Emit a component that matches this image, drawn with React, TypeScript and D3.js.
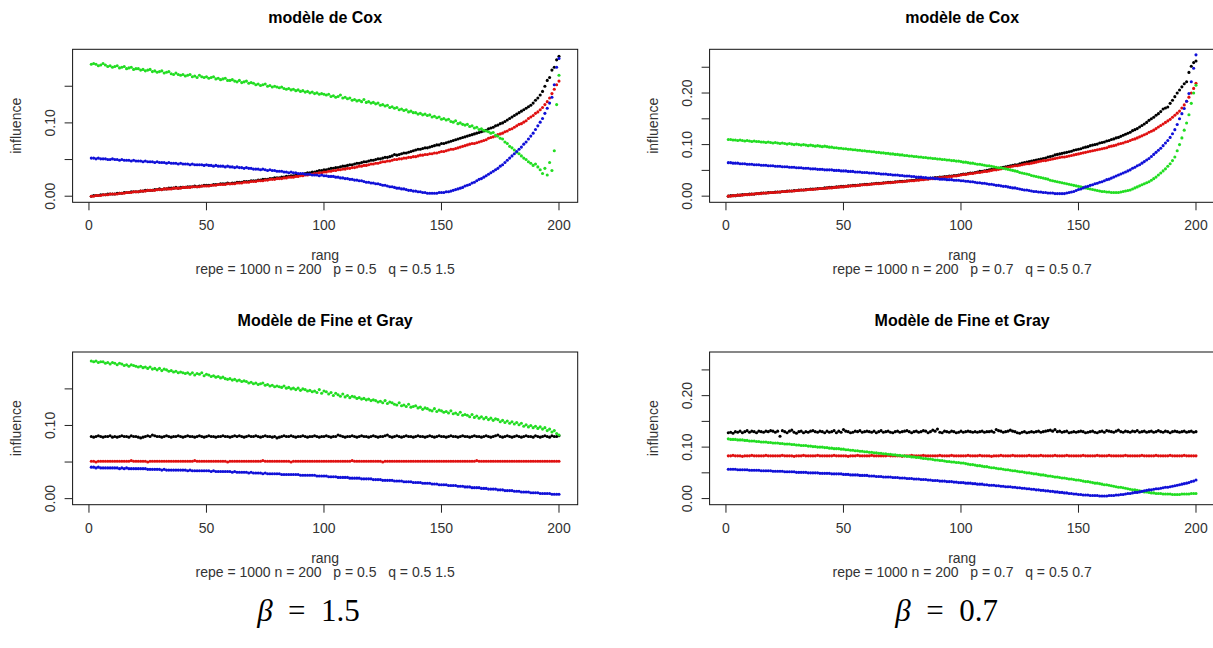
import React from 'react';
import * as d3 from 'd3';

// values are influence x 1000, ranks 1..200
const COX15_K = [
0,1,1,1,2,2,2,3,3,3,3,4,4,4,5,5,5,6,6,6,
6,7,7,8,8,8,8,9,9,10,9,10,10,11,11,11,12,11,12,12,
12,13,13,13,14,13,14,14,15,15,15,15,16,16,16,17,17,17,18,17,
18,18,19,19,19,20,20,20,21,21,21,22,22,23,23,23,24,24,25,25,
25,26,26,27,27,28,28,29,29,30,30,31,32,32,33,33,34,35,35,36,
36,37,38,38,39,39,40,41,41,42,43,43,44,45,45,46,47,47,48,49,
49,50,51,51,52,53,53,54,55,57,56,57,58,59,59,60,61,62,63,64,
64,65,66,66,67,68,69,70,70,72,72,73,74,75,76,77,78,79,80,81,
82,83,84,85,86,87,88,89,90,92,93,94,96,97,99,100,102,104,106,108,
110,112,114,116,118,120,122,124,127,131,134,138,143,150,158,162,172,176,186,191];
const COX15_R = [
0,0,1,1,1,2,2,2,3,3,3,3,4,4,4,5,5,5,6,6,
6,7,7,7,8,8,8,8,9,9,9,10,10,10,10,11,11,11,11,12,
12,12,12,13,13,13,13,14,14,14,14,15,15,15,16,16,16,16,17,17,
17,17,18,18,18,19,19,19,20,20,20,21,21,21,22,22,23,23,23,24,
24,24,25,25,26,26,26,27,27,28,28,29,29,30,30,31,31,32,32,33,
33,34,34,35,35,36,36,37,37,38,38,39,39,40,41,41,42,42,43,44,
44,45,45,46,47,47,48,48,49,50,50,51,51,52,52,53,53,54,54,55,
56,56,57,57,58,58,59,59,60,61,61,62,63,64,64,65,66,67,68,69,
70,71,72,72,73,74,75,76,77,79,80,81,82,84,85,86,88,89,91,92,
94,96,98,99,101,103,106,108,110,113,115,118,121,125,129,134,140,146,152,157];
const COX15_G = [
180,181,180,178,179,181,179,177,178,176,177,178,175,176,177,174,175,176,173,174,
174,172,173,171,172,173,170,171,169,170,171,168,169,170,167,166,168,166,165,166,
164,165,166,163,164,162,165,163,162,163,161,162,163,160,161,159,160,161,158,158,
159,157,156,158,155,156,157,154,155,154,152,153,151,152,153,150,151,149,150,149,
148,149,147,146,147,145,146,144,145,143,144,142,143,141,142,140,141,139,140,139,
138,139,136,137,135,136,138,134,135,133,134,131,132,130,131,129,132,128,129,127,
128,126,127,124,125,123,124,121,122,120,121,118,119,117,118,115,116,114,114,112,
113,111,112,110,111,108,109,107,108,105,106,104,105,102,101,103,99,100,98,97,
98,95,96,93,94,91,92,90,89,88,86,87,83,82,79,78,74,72,68,66,
63,60,58,55,52,50,47,45,42,44,40,36,31,38,29,46,35,62,125,165];
const COX15_B = [
52,52,51,52,51,51,51,50,50,51,50,50,49,50,49,49,49,48,49,48,
48,48,47,48,47,47,47,46,47,46,46,46,45,46,45,45,45,44,45,44,
44,44,43,44,43,43,43,43,42,43,42,42,41,42,41,41,41,40,41,40,
40,39,40,39,39,38,39,38,38,37,37,37,36,37,36,35,36,35,35,34,
34,34,33,33,32,33,32,32,31,31,31,30,30,30,29,29,29,28,29,28,
28,27,27,27,26,26,25,25,24,24,23,23,22,22,21,21,20,19,19,18,
18,17,17,16,15,15,14,13,13,12,11,11,10,10,9,8,8,7,7,6,
6,5,5,4,4,4,4,4,5,5,5,6,6,7,8,9,10,11,12,14,
15,16,18,19,21,23,24,26,28,30,32,34,36,38,41,43,46,49,52,55,
58,61,64,67,71,74,78,82,86,91,96,101,106,113,120,127,135,152,176,188];

const COX07_K = [
0,1,1,1,2,2,3,3,3,4,4,4,5,5,6,6,6,7,7,7,
8,8,8,9,9,10,10,10,11,11,12,12,12,13,13,14,14,14,15,15,
15,16,16,17,17,17,18,18,19,19,19,20,20,21,21,21,22,22,23,23,
23,24,24,25,25,25,26,26,27,27,27,28,28,29,29,29,30,30,31,31,
32,32,33,33,34,34,35,35,36,36,37,37,38,38,39,39,40,40,41,42,
43,43,44,45,45,46,47,48,48,49,50,51,52,52,53,54,55,56,57,58,
59,60,61,61,63,64,65,66,67,68,69,70,71,72,73,74,76,77,78,80,
81,82,83,84,85,86,87,89,90,91,92,94,95,96,98,99,100,101,103,104,
105,107,108,110,111,113,114,116,118,120,122,124,127,129,131,134,137,140,143,147,
150,153,157,160,164,169,171,173,180,186,193,200,206,212,218,222,240,252,259,262];
const COX07_R = [
0,0,1,1,2,2,2,3,3,3,4,4,5,5,5,6,6,6,7,7,
7,8,8,9,9,9,10,10,10,11,11,12,12,12,13,13,13,14,14,15,
15,15,16,16,16,17,17,18,18,18,19,19,20,20,20,21,21,22,22,22,
23,23,24,24,24,25,25,26,26,26,27,27,28,28,28,29,29,30,30,30,
31,31,32,32,33,33,34,34,35,35,36,36,37,37,38,38,39,39,40,41,
42,42,43,44,44,45,46,46,47,48,48,49,50,51,51,52,53,54,55,56,
57,58,59,59,60,61,62,63,63,64,65,66,67,68,69,69,70,71,72,73,
74,75,76,76,77,78,79,80,81,82,83,84,85,86,87,88,89,90,91,92,
93,94,96,97,98,99,101,102,103,105,106,108,110,111,113,115,117,119,121,124,
126,128,131,134,137,140,143,146,149,153,157,161,165,171,177,184,192,200,209,219];
const COX07_G = [
110,110,109,109,108,109,108,107,108,107,106,107,106,106,105,105,104,105,104,103,
104,103,102,103,102,101,102,101,100,101,100,99,100,99,98,99,98,97,98,97,
96,97,96,95,95,94,94,93,93,92,92,91,91,90,90,89,89,88,88,87,
87,86,86,85,85,84,84,83,83,82,82,81,81,80,80,79,79,78,78,77,
77,76,76,75,75,74,74,73,73,72,72,71,71,70,70,69,69,68,68,67,
66,66,65,64,64,63,62,62,61,60,59,59,58,57,56,55,55,54,53,52,
51,50,49,48,46,45,44,43,42,40,39,38,37,36,35,34,33,31,30,29,
28,27,26,25,24,23,22,21,20,19,18,17,16,15,14,13,12,11,10,9,
9,8,8,7,7,7,7,8,9,10,11,12,14,16,18,20,22,24,26,28,
31,34,37,41,45,49,53,58,63,69,76,88,100,113,128,142,158,180,200,215];
const COX07_B = [
65,65,64,64,64,63,63,63,62,62,62,61,61,61,60,60,60,59,59,59,
58,58,58,57,57,57,56,56,56,55,55,55,54,54,54,53,53,53,52,52,
52,51,51,51,51,50,50,50,49,49,49,48,48,48,47,47,47,46,46,46,
45,45,45,44,44,43,43,43,42,42,41,41,41,40,40,39,39,39,38,38,
37,37,37,36,36,35,35,35,34,34,33,33,33,32,32,32,31,31,31,30,
30,29,29,28,28,27,26,26,25,25,24,23,23,22,21,21,20,19,19,18,
17,16,16,15,14,13,12,12,11,10,9,9,8,8,7,7,6,6,6,5,
5,5,5,5,6,7,8,9,11,13,14,16,18,19,21,22,24,25,27,28,
30,32,33,35,37,39,41,43,45,47,49,51,54,56,59,61,64,67,70,73,
77,81,85,89,93,98,103,108,114,121,129,139,150,160,170,184,199,222,248,274];

const FG15_K = [
85,84,85,86,85,84,85,85,86,84,85,84,85,86,85,85,84,86,85,85,
84,83,84,85,86,85,87,86,85,85,84,85,86,85,84,85,85,86,85,84,
85,86,85,85,84,85,86,85,84,85,86,85,85,84,85,85,86,85,85,84,
85,86,85,86,85,84,85,86,85,85,86,85,84,85,86,85,85,84,85,83,
84,85,86,85,85,86,85,84,85,85,86,85,84,85,85,86,85,84,85,85,
86,85,84,85,85,87,86,85,84,85,85,86,85,84,85,86,85,85,84,85,
86,85,84,85,85,86,87,85,84,85,86,85,84,85,86,85,85,84,85,86,
85,85,84,85,86,85,84,85,86,85,85,84,85,86,85,85,84,85,86,85,
85,84,85,86,85,85,84,85,86,85,84,85,86,87,85,84,85,86,85,84,
85,86,85,84,85,86,85,85,84,86,85,84,85,86,85,84,86,85,85,86];
const FG15_R = [
51,51,50,51,51,51,51,51,51,51,51,51,51,51,51,51,51,52,51,51,
51,51,51,51,50,51,51,51,51,51,51,51,51,51,51,51,51,51,51,51,
51,51,51,51,52,51,51,51,51,51,51,51,51,51,51,51,51,51,50,51,
51,51,51,51,51,51,51,51,51,51,51,51,51,52,51,51,51,51,51,51,
51,51,51,51,51,50,51,51,51,51,51,51,51,51,51,51,51,51,51,51,
51,51,51,51,51,51,51,51,51,51,51,52,51,51,51,51,51,51,51,51,
51,51,51,51,50,51,51,51,51,51,51,51,51,51,51,51,51,51,51,51,
51,51,51,51,51,51,51,51,51,51,51,51,51,51,51,51,51,51,51,51,
51,51,51,51,52,51,51,51,51,51,51,51,51,51,51,51,51,51,51,51,
51,51,51,51,51,51,51,51,51,51,51,51,51,51,51,51,51,51,51,51];
const FG15_G = [
188,187,188,186,187,187,185,186,184,186,185,183,185,184,182,183,181,183,182,181,
180,181,179,180,178,180,177,178,176,178,175,177,176,174,175,173,174,172,173,172,
171,172,170,172,169,171,170,172,168,170,169,167,168,166,167,165,166,164,163,164,
162,163,161,162,160,161,160,158,159,157,158,156,157,158,155,156,154,155,153,154,
153,152,154,151,152,150,151,149,151,148,150,149,147,148,146,147,145,149,144,147,
146,143,145,141,144,142,140,143,139,141,138,140,139,137,138,136,137,135,136,134,
135,134,132,133,131,134,130,132,131,129,128,131,127,128,126,129,125,126,127,124,
125,122,124,123,121,120,123,119,121,120,118,119,117,120,116,117,115,118,114,115,
114,112,115,111,113,110,112,109,111,108,110,107,109,108,105,107,104,106,103,105,
102,104,101,103,99,101,98,100,97,99,96,98,95,97,93,95,91,93,89,87];
const FG15_B = [
43,43,42,43,42,42,42,42,42,42,42,42,41,42,41,42,41,41,41,41,
41,41,41,41,40,40,40,40,40,40,39,40,39,39,39,39,39,39,39,39,
39,38,39,38,38,38,38,38,38,38,38,37,38,37,37,37,37,37,37,37,
36,37,36,36,36,36,36,35,36,35,35,35,35,34,35,34,34,34,34,34,
34,33,33,33,33,33,33,33,33,32,32,32,32,32,32,32,31,31,31,31,
31,30,30,30,30,29,29,29,29,29,28,28,28,28,28,27,27,27,27,27,
26,26,26,26,25,25,25,25,25,24,24,24,24,23,23,23,23,22,22,22,
22,21,21,21,21,20,20,20,19,19,19,19,18,18,18,18,17,17,17,16,
16,16,15,15,15,15,14,14,14,13,13,13,13,12,12,12,11,11,11,11,
10,10,10,9,9,9,9,8,8,8,8,7,7,7,7,7,6,6,6,6];

const FG07_K = [
128,129,127,130,129,131,128,130,132,129,131,130,128,131,130,129,131,130,132,131,
129,131,121,132,130,128,131,133,129,127,130,131,128,130,129,131,132,130,129,131,
130,128,131,129,130,132,128,131,129,134,131,130,128,129,131,130,132,129,130,131,
130,129,131,128,130,132,129,130,131,129,128,130,131,129,130,131,132,130,128,130,
131,129,130,132,131,128,130,133,131,135,129,128,131,130,129,131,130,128,129,131,
129,130,131,130,129,130,129,130,131,129,130,130,131,129,134,132,131,129,130,131,
133,131,130,128,127,129,130,128,129,130,129,130,131,129,130,131,132,133,131,134,
130,131,129,130,131,128,129,130,129,130,131,130,128,129,130,131,129,128,130,131,
129,132,131,130,129,131,133,130,129,131,130,129,131,130,132,129,130,131,129,130,
131,129,130,132,130,129,131,130,128,130,131,130,129,130,131,129,130,131,129,130];
const FG07_R = [
83,83,84,83,83,83,82,83,83,83,84,83,83,83,83,83,84,83,83,83,
83,83,83,84,83,83,83,83,82,83,83,83,84,83,83,83,83,83,84,83,
83,83,83,83,83,84,83,83,83,83,83,82,83,83,83,84,83,83,83,83,
83,84,83,83,83,83,83,83,84,83,83,83,83,83,82,83,83,83,84,83,
83,83,83,84,83,83,83,83,83,83,84,83,83,83,83,84,83,83,83,83,
83,83,84,83,83,83,83,84,83,83,83,83,82,83,83,83,84,83,83,83,
83,84,83,83,83,83,83,83,84,83,83,83,83,84,83,83,83,83,83,84,
83,83,83,83,84,83,83,83,83,83,83,84,83,83,83,83,83,84,83,83,
83,83,84,83,83,83,83,83,83,84,83,83,83,83,83,83,84,83,83,83,
83,83,84,83,83,83,83,83,84,83,83,83,83,83,84,83,83,83,83,83];
const FG07_G = [
116,115,115,115,114,114,114,113,113,112,112,112,111,111,110,110,110,109,109,108,
108,108,107,107,106,106,106,105,105,104,104,103,103,103,102,102,101,101,100,100,
100,99,99,98,98,97,97,97,96,96,95,95,94,94,93,93,92,92,91,91,
90,90,89,89,88,88,87,87,86,86,85,85,84,84,83,83,82,82,81,81,
80,80,79,78,78,77,77,76,75,75,74,74,73,72,72,71,71,70,70,69,
69,68,67,66,66,65,64,64,63,62,62,61,60,60,59,58,58,57,56,56,
55,54,54,53,52,52,51,50,50,49,48,48,47,46,46,45,44,44,43,42,
42,41,40,40,39,38,38,37,36,36,35,34,33,33,32,31,30,30,29,28,
27,27,26,25,24,23,22,22,21,20,19,18,17,17,16,15,14,13,13,12,
11,11,10,10,10,9,9,9,9,8,8,8,8,9,9,9,9,10,10,10];
const FG07_B = [
57,57,57,57,56,56,56,56,56,55,55,55,55,55,54,54,54,54,54,53,
53,53,53,53,52,52,52,52,52,51,51,51,51,51,50,50,50,50,50,49,
49,49,49,49,48,48,48,48,48,47,47,47,46,46,46,46,45,45,45,45,
44,44,44,43,43,43,42,42,42,42,41,41,41,40,40,40,39,39,39,38,
38,38,37,37,37,36,36,35,35,35,34,34,34,33,33,33,32,32,31,31,
31,30,30,30,29,29,28,28,28,27,27,26,26,26,25,25,24,24,23,23,
23,22,22,21,21,20,20,19,19,18,18,17,17,16,16,15,15,14,14,13,
13,12,12,11,11,10,10,9,9,8,8,7,7,7,6,6,6,6,5,5,
5,5,6,6,6,7,7,8,8,9,10,10,11,12,12,13,14,15,16,17,
17,18,19,19,20,21,22,22,23,24,25,26,27,28,29,30,31,33,34,36];

const SERIES_COLORS = ['#000000', '#e01010', '#22dd22', '#1010d8'];
const X_DOMAIN = [-6.96, 207.96];
const X_TICKS = [0, 50, 100, 150, 200];
const Y_DOMAIN_15 = [-0.0083, 0.2004];
const Y_DOMAIN_07 = [-0.0119, 0.2848];
const Y_TICKS_15 = [0, 0.05, 0.1, 0.15];
const Y_TICKS_07 = [0, 0.05, 0.1, 0.15, 0.2, 0.25];
const Y_LABELED = [0, 0.1, 0.2];
const SUB_15 = 'repe = 1000 n = 200   p = 0.5   q = 0.5 1.5';
const SUB_07 = 'repe = 1000 n = 200   p = 0.7   q = 0.5 0.7';
const TITLE_COX = 'modèle de Cox';
const TITLE_FG = 'Modèle de Fine et Gray';

const LEFT = [72.6, 577.7];
const RIGHT = [709.6, 1214.7];
const TOP = [49.3, 202.3];
const BOTTOM = [352, 504.7];

const PANELS = [
  { title: TITLE_COX, sub: SUB_15, series: [COX15_K, COX15_R, COX15_G, COX15_B], xr: LEFT, yr: TOP, yDom: Y_DOMAIN_15, yTicks: Y_TICKS_15 },
  { title: TITLE_COX, sub: SUB_07, series: [COX07_K, COX07_R, COX07_G, COX07_B], xr: RIGHT, yr: TOP, yDom: Y_DOMAIN_07, yTicks: Y_TICKS_07 },
  { title: TITLE_FG, sub: SUB_15, series: [FG15_K, FG15_R, FG15_G, FG15_B], xr: LEFT, yr: BOTTOM, yDom: Y_DOMAIN_15, yTicks: Y_TICKS_15 },
  { title: TITLE_FG, sub: SUB_07, series: [FG07_K, FG07_R, FG07_G, FG07_B], xr: RIGHT, yr: BOTTOM, yDom: Y_DOMAIN_07, yTicks: Y_TICKS_07 },
];

const SANS = '"Liberation Sans", Arial, Helvetica, sans-serif';
const SERIF = '"Liberation Serif", "Times New Roman", serif';
const AX = 14;

function Panel({ p }: { p: any }) {
  const [x0, x1] = p.xr;
  const [y0, y1] = p.yr;
  const x = d3.scaleLinear().domain(X_DOMAIN).range([x0, x1]);
  const y = d3.scaleLinear().domain(p.yDom).range([y1, y0]);
  const cx = (x0 + x1) / 2;
  const cy = (y0 + y1) / 2;
  const fmt = d3.format('.2f');
  return (
    <g>
      {p.series.map((s: number[], si: number) => (
        <g key={si} fill={SERIES_COLORS[si]}>
          {s.map((v, i) => (
            <circle key={i} cx={x(i + 1)} cy={y(v / 1000)} r={1.55} />
          ))}
        </g>
      ))}
      <rect x={x0} y={y0} width={x1 - x0} height={y1 - y0} fill="none" stroke="#111" strokeWidth={1} />
      {X_TICKS.map((t) => (
        <g key={t}>
          <line x1={x(t)} x2={x(t)} y1={y1} y2={y1 + 8} stroke="#222" />
          <text x={x(t)} y={y1 + 28} textAnchor="middle" fontSize={AX} fontFamily={SANS} fill="#333">{t}</text>
        </g>
      ))}
      {p.yTicks.map((t: number) => (
        <g key={t}>
          <line x1={x0 - 8} x2={x0} y1={y(t)} y2={y(t)} stroke="#222" />
          {Y_LABELED.some((l) => Math.abs(l - t) < 1e-9) && (
            <text transform={`translate(${x0 - 17.5},${y(t)}) rotate(-90)`} textAnchor="middle" fontSize={AX} fontFamily={SANS} fill="#333">{fmt(t)}</text>
          )}
        </g>
      ))}
      <text x={cx} y={y0 - 26} textAnchor="middle" fontSize={16} fontWeight="bold" fontFamily={SANS} fill="#000">{p.title}</text>
      <text x={cx} y={y1 + 58} textAnchor="middle" fontSize={AX} fontFamily={SANS} fill="#333">rang</text>
      <text x={cx} y={y1 + 72} textAnchor="middle" fontSize={AX} fontFamily={SANS} fill="#333" style={{ whiteSpace: 'pre' }} xmlSpace="preserve">{p.sub}</text>
      <text transform={`translate(${x0 - 51.6},${cy}) rotate(-90)`} textAnchor="middle" fontSize={AX} fontFamily={SANS} fill="#333">influence</text>
    </g>
  );
}

export default function App() {
  return (
    <svg width={1213} height={648} viewBox="0 0 1213 648" style={{ position: 'absolute', left: 0, top: 0, background: '#fff', display: 'block' }}>
      <rect x={0} y={0} width={1213} height={648} fill="#fff" />
      {PANELS.map((p, i) => <Panel key={i} p={p} />)}
      <text x={308.5} y={621} textAnchor="middle" fontSize={31} fontFamily={SERIF} fill="#000" style={{ whiteSpace: 'pre' }}>
        <tspan fontStyle="italic">β</tspan>{'\u2002=\u20021.5'}
      </text>
      <text x={946.7} y={621} textAnchor="middle" fontSize={31} fontFamily={SERIF} fill="#000" style={{ whiteSpace: 'pre' }}>
        <tspan fontStyle="italic">β</tspan>{'\u2002=\u20020.7'}
      </text>
    </svg>
  );
}
